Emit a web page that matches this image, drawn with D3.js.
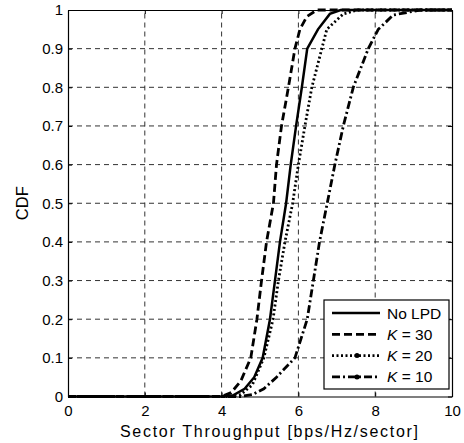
<!DOCTYPE html>
<html>
<head>
<meta charset="utf-8">
<script src="https://cdn.jsdelivr.net/npm/d3@7"></script>
<style>
  body { margin: 0; background: #fff; }
  text { font-family: "Liberation Sans", Arial, sans-serif; }
</style>
</head>
<body>
<script>
// CDF curves: [throughput, cdf]
const noLpd = [[0,0],[4.0,0],[4.3,0.003],[4.6,0.02],[4.85,0.05],[5.07,0.1],[5.26,0.2],[5.39,0.3],[5.52,0.4],[5.68,0.5],[5.80,0.6],[5.94,0.7],[6.09,0.8],[6.23,0.9],[6.51,0.95],[6.82,0.99],[7.1,1],[10,1]];
const k30 = [[0,0],[4.0,0],[4.25,0.01],[4.5,0.04],[4.76,0.1],[4.92,0.2],[5.04,0.3],[5.17,0.4],[5.35,0.5],[5.43,0.6],[5.56,0.7],[5.74,0.8],[5.91,0.9],[6.04,0.95],[6.22,0.983],[6.48,1],[10,1]];
const k20 = [[0,0],[4.2,0],[4.5,0.005],[4.8,0.03],[5.1,0.1],[5.34,0.2],[5.48,0.3],[5.65,0.4],[5.85,0.5],[6.0,0.6],[6.17,0.7],[6.35,0.8],[6.61,0.9],[6.74,0.95],[7.17,0.99],[7.55,1],[10,1]];
const k10 = [[0,0],[4.5,0],[4.8,0.005],[5.1,0.02],[5.43,0.05],[5.91,0.1],[6.23,0.2],[6.39,0.3],[6.55,0.4],[6.75,0.5],[6.95,0.6],[7.17,0.7],[7.43,0.8],[7.82,0.9],[8.08,0.95],[8.47,0.987],[9.17,1],[10,1]];

const xTicks = [0, 2, 4, 6, 8, 10];
const yTicks = [0, 0.1, 0.2, 0.3, 0.4, 0.5, 0.6, 0.7, 0.8, 0.9, 1];

const series = [
  {name: "No LPD", values: noLpd, dash: null, dot: false},
  {name: "30", values: k30, dash: "8,4", dot: false},
  {name: "20", values: k20, dash: "2,2.5", dot: true},
  {name: "10", values: k10, dash: "8,3,2,3", dot: true}
];

const width = 464, height = 443;
const marginTop = 10, marginBottom = 46.5, marginLeft = 68, marginRight = 12;

const x = d3.scaleLinear()
    .domain([0, 10])
    .range([marginLeft, width - marginRight]);

const y = d3.scaleLinear()
    .domain([0, 1])
    .range([height - marginBottom, marginTop]);

const svg = d3.select("body").append("svg")
    .attr("width", width)
    .attr("height", height);

// grid
svg.append("g")
    .attr("stroke", "#333")
    .attr("stroke-width", 1)
    .attr("stroke-dasharray", "5,4")
    .selectAll("line")
    .data(xTicks.slice(1, -1))
    .join("line")
    .attr("x1", d => x(d)).attr("x2", d => x(d))
    .attr("y1", y(0)).attr("y2", y(1));

svg.append("g")
    .attr("stroke", "#333")
    .attr("stroke-width", 1)
    .attr("stroke-dasharray", "5,4")
    .selectAll("line")
    .data(yTicks.slice(1, -1))
    .join("line")
    .attr("x1", x(0)).attr("x2", x(10))
    .attr("y1", d => y(d)).attr("y2", d => y(d));

// axes with inward ticks
svg.append("g")
    .attr("transform", `translate(0,${y(0)})`)
    .call(d3.axisBottom(x).tickValues(xTicks).tickSizeInner(-4).tickSizeOuter(0).tickPadding(9));
svg.append("g")
    .attr("transform", `translate(${x(0)},0)`)
    .call(d3.axisLeft(y).tickValues(yTicks).tickFormat(d3.format("~g")).tickSizeInner(-4).tickSizeOuter(0).tickPadding(5));
svg.append("g")
    .attr("transform", `translate(0,${y(1)})`)
    .call(d3.axisTop(x).tickValues(xTicks).tickSizeInner(-4).tickSizeOuter(0).tickFormat(""));
svg.append("g")
    .attr("transform", `translate(${x(10)},0)`)
    .call(d3.axisRight(y).tickValues(yTicks).tickSizeInner(-4).tickSizeOuter(0).tickFormat(""));

svg.selectAll(".tick text").attr("font-size", 15).attr("fill", "#000")
    .attr("font-family", "Liberation Sans, Arial, sans-serif");
svg.selectAll(".domain").attr("stroke", "#000").attr("stroke-width", 1.2);

// curves
const line = d3.line()
    .x(d => x(d[0]))
    .y(d => y(d[1]));

svg.append("g")
    .attr("fill", "none")
    .attr("stroke", "#000")
    .selectAll("path")
    .data(series)
    .join("path")
    .attr("stroke-dasharray", d => d.dash)
    .attr("stroke-width", d => d.dash ? 2.8 : 2.5)
    .attr("d", d => line(d.values));

// labels
svg.append("text")
    .attr("x", 120)
    .attr("y", 437)
    .attr("font-size", 16)
    .attr("textLength", 298)
    .attr("lengthAdjust", "spacing")
    .text("Sector Throughput [bps/Hz/sector]");

svg.append("text")
    .attr("transform", `translate(28,${(y(0) + y(1)) / 2}) rotate(-90)`)
    .attr("text-anchor", "middle")
    .attr("font-size", 16.5)
    .text("CDF");

// legend
const legend = svg.append("g").attr("transform", "translate(324,300)");
legend.append("rect")
    .attr("width", 125).attr("height", 89)
    .attr("fill", "#fff").attr("stroke", "#000").attr("stroke-width", 1.2);

const rows = legend.selectAll("g")
    .data(series)
    .join("g")
    .attr("transform", (d, i) => `translate(0,${13 + i * 21.3})`);

rows.append("line")
    .attr("x1", 8).attr("x2", 56)
    .attr("stroke", "#000")
    .attr("stroke-width", d => d.dash ? 2.8 : 2.5)
    .attr("stroke-dasharray", d => d.dash);

rows.filter(d => d.dot).append("circle")
    .attr("cx", 33).attr("r", 2.5).attr("fill", "#000");

const labels = rows.append("text")
    .attr("x", 63).attr("y", 5.5)
    .attr("font-size", 15.5);

labels.filter(d => d.dash === null).text(d => d.name);
labels.filter(d => d.dash !== null).each(function(d) {
  const t = d3.select(this);
  t.append("tspan").attr("font-style", "italic").text("K");
  t.append("tspan").text(" = " + d.name);
});
</script>
</body>
</html>
